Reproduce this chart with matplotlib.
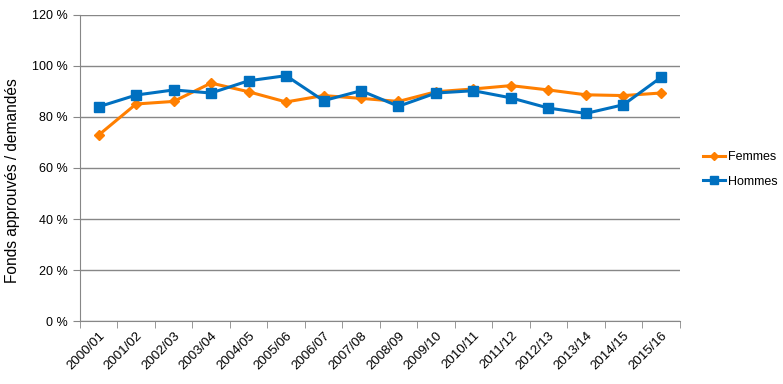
import matplotlib
matplotlib.use("Agg")
import matplotlib.pyplot as plt
import numpy as np
from matplotlib.ticker import FixedLocator

plt.rcParams["font.family"] = ["Liberation Sans", "DejaVu Sans"]

YEARS = ["2000/01", "2001/02", "2002/03", "2003/04", "2004/05", "2005/06",
         "2006/07", "2007/08", "2008/09", "2009/10", "2010/11", "2011/12",
         "2012/13", "2013/14", "2014/15", "2015/16"]
FEMMES = [72.9, 85.1, 86.1, 93.3, 89.9, 85.9, 88.4, 87.3,
          86.1, 89.9, 91.0, 92.3, 90.6, 88.7, 88.4, 89.4]
HOMMES = [84.0, 88.6, 90.6, 89.4, 94.2, 96.2, 86.4, 90.3,
          84.2, 89.4, 90.3, 87.5, 83.5, 81.4, 84.8, 95.5]
Y_TICKS = [0, 20, 40, 60, 80, 100, 120]

ORANGE = "#FF7F00"
BLUE = "#0070C0"
GRID = "#878787"

fig = plt.figure(figsize=(7.83, 3.84), dpi=100)
ax = fig.add_axes([0.102, 0.164, 0.766, 0.797])

x = np.arange(len(YEARS))
ax.plot(x, FEMMES, color=ORANGE, lw=2.2, marker="D", ms=5.5, label="Femmes")
ax.plot(x, HOMMES, color=BLUE, lw=2.2, marker="s", ms=7, label="Hommes")

ax.set_xlim(-0.5, len(YEARS) - 0.5)
ax.set_ylim(0, 120)
ax.set_yticks(Y_TICKS)
ax.set_yticklabels([f"{v} %" for v in Y_TICKS], fontsize=9)
ax.yaxis.grid(True, color=GRID, lw=1)
ax.set_axisbelow(True)

ax.set_xticks(x)
ax.set_xticklabels(YEARS, rotation=45, ha="right", rotation_mode="anchor", fontsize=9.5)
ax.tick_params(axis="x", which="major", length=0, pad=6)
ax.xaxis.set_minor_locator(FixedLocator(np.arange(-0.5, len(YEARS), 1)))
ax.tick_params(axis="x", which="minor", length=5, color=GRID)
ax.tick_params(axis="y", length=5, color=GRID)

for s in ["top", "right"]:
    ax.spines[s].set_visible(False)
for s in ["left", "bottom"]:
    ax.spines[s].set_color(GRID)

ax.set_ylabel("Fonds approuvés / demandés", fontsize=11.2)
ax.yaxis.set_label_coords(-0.1, 0.46)

fig.legend(loc="center left", bbox_to_anchor=(0.884, 0.559), frameon=False,
           fontsize=9, handlelength=1.7, handletextpad=0.3, labelspacing=1.0,
           markerscale=0.75)

fig.savefig("out.png", dpi=100)
